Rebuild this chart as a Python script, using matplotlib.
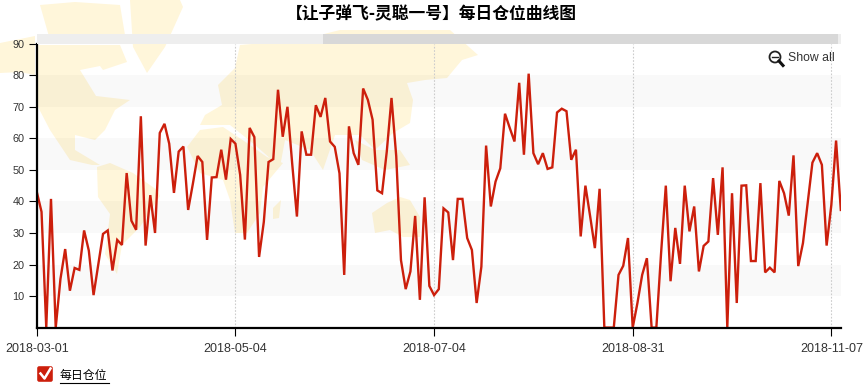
import matplotlib
matplotlib.use("Agg")
import matplotlib.pyplot as plt
from matplotlib.patches import Polygon, Circle, FancyBboxPatch, Rectangle

plt.rcParams['font.family'] = ['Liberation Sans', 'Noto Sans CJK SC', 'DejaVu Sans']

title = "【让子弹飞-灵聪一号】每日仓位曲线图"
series_name = "每日仓位"
date_labels = ["2018-03-01", "2018-05-04", "2018-07-04", "2018-08-31", "2018-11-07"]
date_index = [0, 42, 84, 126, 168]
y_ticks = [10, 20, 30, 40, 50, 60, 70, 80, 90]
bands = [(10, 20), (30, 40), (50, 60), (70, 80)]

position = [
    43, 36.7, 0, 40.8, 0, 15.4, 24.9, 11.7, 18.9, 18.3,
    30.8, 24.4, 10.3, 20, 29.7, 30.8, 18.1, 27.8, 26.2, 49,
    33.9, 31, 67, 26, 42, 30, 61.7, 64.6, 58.3, 42.7,
    55.8, 57.4, 37.3, 45.6, 54.4, 52.5, 27.8, 47.6, 47.7, 56.4,
    46.9, 59.8, 58.3, 48.4, 27.9, 63.3, 60.4, 22.4, 33.5, 52.5,
    53.4, 75.4, 60.5, 70, 52, 35.2, 62.2, 54.8, 54.8, 70.5,
    66.8, 72.8, 59, 57.3, 48.9, 16.7, 63.8, 55.3, 51.6, 75.8,
    72.2, 65.9, 43.5, 42.6, 55.8, 72.8, 54.3, 21.4, 12.2, 17.8,
    35.4, 8.8, 41.3, 13.2, 10.3, 12.2, 37.8, 36.5, 21.4, 40.8,
    40.8, 28.4, 24.6, 7.8, 19.3, 57.7, 38.4, 46.3, 50.5, 67.8,
    63.3, 59, 77.6, 54.8, 80.5, 55.3, 51.8, 55.3, 50.3, 50.8,
    68.2, 69.4, 68.6, 53.2, 56.4, 28.9, 45, 35.3, 25.2, 44,
    0, 0, 0, 16.7, 19.6, 28.4, 0, 7.8, 16.7, 22,
    0, 0, 23.6, 45, 14.7, 31.6, 20.2, 45, 30.5, 38.4,
    17.8, 25.9, 27.3, 47.4, 29.4, 50.8, 0, 42.6, 7.8, 45,
    45.1, 21.1, 21.1, 45.8, 17.5, 19, 17.5, 46.5, 42.6, 35.5,
    54.6, 19.5, 26.8, 39.5, 52.3, 55.3, 51.6, 26, 38.9, 59.3,
    37.3,
]

# rough world map behind the chart, in pixels
land = [
    [(0, 43), (35, 36), (35, 75), (20, 72), (0, 73)],
    [(40, 5), (75, 2), (120, 5), (125, 35), (95, 42), (50, 40)],
    [(37, 45), (120, 45), (127, 62), (103, 70), (100, 66), (80, 70), (96, 96), (130, 100),
     (115, 110), (105, 130), (95, 140), (75, 135), (75, 150), (100, 165), (92, 165), (70, 160), (50, 130), (37, 105)],
    [(130, 0), (180, 0), (183, 7), (165, 47), (147, 73), (133, 47)],
    [(97, 167), (110, 163), (133, 173), (157, 190), (160, 196), (140, 227), (122, 245), (117, 274), (105, 254), (110, 214), (98, 197)],
    [(187, 147), (200, 130), (223, 127), (247, 143), (267, 157), (283, 163), (263, 187), (260, 213), (247, 233), (235, 233), (230, 200), (223, 180), (200, 173)],
    [(273, 208), (281, 200), (279, 218), (273, 219)],
    [(205, 115), (222, 105), (218, 85), (235, 68), (240, 45), (300, 40), (340, 30), (395, 30), (450, 30), (478, 55), (462, 60),
     (447, 78), (425, 80), (407, 83), (413, 100), (410, 123), (393, 133), (375, 150), (360, 135), (335, 135), (323, 170), (310, 150),
     (285, 140), (280, 167), (255, 145), (230, 125), (200, 125)],
    [(372, 213), (387, 203), (400, 197), (410, 200), (420, 217), (420, 237), (403, 237), (390, 230), (375, 233)],
    [(355, 140), (375, 150), (400, 150), (410, 165), (385, 170), (362, 160)],
]

fig = plt.figure(figsize=(8.66, 3.88), dpi=100)
W, H = 866, 388

bg = fig.add_axes([0, 0, 1, 1], zorder=0)
bg.set_xlim(0, W)
bg.set_ylim(H, 0)
bg.axis("off")
for shape in land:
    bg.add_patch(Polygon(shape, closed=True, fc="#fff6da", ec="none"))

ax = fig.add_axes([36.8 / W, (H - 327.6) / H, 804 / W, 283.9 / H], zorder=1)
ax.patch.set_alpha(0)
ax.set_xlim(0, 170)
ax.set_ylim(0, 90)
for low, high in bands:
    ax.axhspan(low, high, color="black", alpha=0.025, lw=0, zorder=0)
for i in date_index:
    ax.axvline(i, color="#cccccc", lw=0.8, ls=(0, (1.5, 1.5)), zorder=1)
ax.plot(range(len(position)), position, color="#cc1f0c", lw=1.7, zorder=3,
        solid_joinstyle="miter")
ax.set_xticks(date_index)
ax.set_xticklabels(date_labels, fontsize=9, color="#333333")
ax.set_yticks(y_ticks)
ax.set_yticklabels([str(v) for v in y_ticks], fontsize=7.8, color="#333333")
ax.tick_params(axis="both", length=5.8, width=0.8, color="black")
ax.tick_params(axis="x", pad=5)
ax.tick_params(axis="y", pad=3)
for side in ["top", "right"]:
    ax.spines[side].set_visible(False)
for side in ["left", "bottom"]:
    ax.spines[side].set_linewidth(1.6)
    ax.spines[side].set_zorder(4)

top = fig.add_axes([0, 0, 1, 1], zorder=2)
top.set_xlim(0, W)
top.set_ylim(H, 0)
top.axis("off")

# range bar above the plot
top.add_patch(Rectangle((37, 34), 804, 9.7, fc="#eeeeee", ec="none"))
top.add_patch(Rectangle((323, 34), 515, 9.7, fc="#d8d8d8", ec="none"))

top.text(431, 14, title, fontsize=12.1, fontweight="bold", ha="center", va="center",
         color="black", family=['Noto Sans CJK SC', 'DejaVu Sans'])

# zoom out icon
top.add_patch(Circle((775, 57), 5.5, fc="none", ec="#222222", lw=1.3))
top.plot([772, 778], [57, 57], color="#222222", lw=1)
top.plot([779, 783], [61, 65.5], color="#111111", lw=2.2)
top.text(788, 58, "Show all", fontsize=8.8, ha="left", va="center", color="#333333")

# legend
top.add_patch(FancyBboxPatch((38, 367), 14, 14, boxstyle="round,pad=0.8,rounding_size=2",
                             fc="#cc1f0c", ec="none"))
top.plot([40.5, 44.5, 50.5], [373.5, 378.5, 368.5], color="white", lw=1.8)
top.text(60, 375, series_name, fontsize=8.6, ha="left", va="center", color="black",
         family=['Noto Sans CJK SC', 'DejaVu Sans'])
top.plot([60, 108.5], [382.5, 382.5], color="black", lw=0.8)

fig.savefig("out.png", dpi=100)
